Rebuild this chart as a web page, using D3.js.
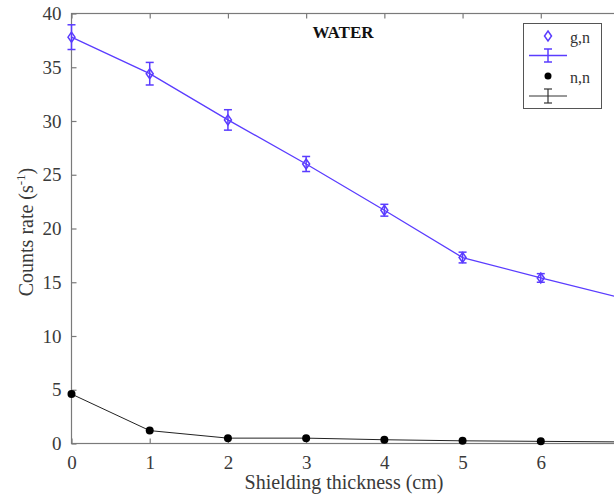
<!DOCTYPE html>
<html>
<head>
<meta charset="utf-8">
<script src="https://cdn.jsdelivr.net/npm/d3@7"></script>
<style>
body { margin: 0; background: #fff; }
svg text { font-family: "Liberation Serif", "Times New Roman", serif !important; }
</style>
</head>
<body>
<script>
var thickness = [0, 1, 2, 3, 4, 5, 6, 7];
var gnRate = [37.8, 34.4, 30.1, 26.0, 21.7, 17.3, 15.4, 13.6];
var gnErr = [1.15, 1.05, 0.95, 0.7, 0.55, 0.5, 0.4, 0.4];
var nnRate = [4.6, 1.2, 0.5, 0.5, 0.35, 0.25, 0.2, 0.15];
var xTicks = [0, 1, 2, 3, 4, 5, 6, 7];
var yTicks = [0, 5, 10, 15, 20, 25, 30, 35, 40];

var w = 614, h = 501;
var blue = "#5a3cff";
var axisCol = "#7a7a7a";

var x = d3.scaleLinear().domain([0, 7]).range([71.5, 619]);
var y = d3.scaleLinear().domain([0, 40]).range([443.5, 13.5]);

var svg = d3.select("body").append("svg")
    .attr("width", w).attr("height", h);

// frame
svg.append("rect")
    .attr("x", x(0)).attr("y", y(40))
    .attr("width", x(7) - x(0)).attr("height", y(0) - y(40))
    .attr("fill", "none").attr("stroke", axisCol).attr("stroke-width", 1.2);

// axes with inward ticks
var xb = svg.append("g").attr("transform", "translate(0," + y(0) + ")")
    .call(d3.axisBottom(x).tickValues(xTicks).tickSize(-5).tickPadding(12).tickFormat(d3.format("d")));
var xt = svg.append("g").attr("transform", "translate(0," + y(40) + ")")
    .call(d3.axisTop(x).tickValues(xTicks).tickSize(-5).tickFormat(""));
var yl = svg.append("g").attr("transform", "translate(" + x(0) + ",0)")
    .call(d3.axisLeft(y).tickValues(yTicks).tickSize(-5).tickPadding(10).tickFormat(d3.format("d")));
var yr = svg.append("g").attr("transform", "translate(" + x(7) + ",0)")
    .call(d3.axisRight(y).tickValues(yTicks).tickSize(-5).tickFormat(""));

[xb, xt, yl, yr].forEach(function (g) {
    g.attr("font-family", null).attr("font-size", null);
    g.select(".domain").remove();
    g.selectAll(".tick line").attr("stroke", axisCol).attr("stroke-width", 1.2);
    g.selectAll(".tick text")
        .attr("fill", "#3a3a3a")
        .style("font-size", "19px");
});

// g,n series
var line = d3.line()
    .x(function (d, i) { return x(thickness[i]); })
    .y(function (d) { return y(d); });

svg.append("path").datum(gnRate)
    .attr("d", line).attr("fill", "none")
    .attr("stroke", blue).attr("stroke-width", 1.3);

var eb = svg.append("g").selectAll("g").data(gnRate).enter().append("g");
eb.append("line")
    .attr("x1", function (d, i) { return x(thickness[i]); })
    .attr("x2", function (d, i) { return x(thickness[i]); })
    .attr("y1", function (d, i) { return y(d - gnErr[i]); })
    .attr("y2", function (d, i) { return y(d + gnErr[i]); })
    .attr("stroke", blue).attr("stroke-width", 1.5);
[-1, 1].forEach(function (s) {
    eb.append("line")
        .attr("x1", function (d, i) { return x(thickness[i]) - 4; })
        .attr("x2", function (d, i) { return x(thickness[i]) + 4; })
        .attr("y1", function (d, i) { return y(d + s * gnErr[i]); })
        .attr("y2", function (d, i) { return y(d + s * gnErr[i]); })
        .attr("stroke", blue).attr("stroke-width", 1.5);
});

var diamond = "M0,-5L3.5,0L0,5L-3.5,0Z";
svg.append("g").selectAll("path").data(gnRate).enter().append("path")
    .attr("d", diamond)
    .attr("transform", function (d, i) { return "translate(" + x(thickness[i]) + "," + y(d) + ")"; })
    .attr("fill", "none").attr("stroke", blue).attr("stroke-width", 1.5);

// n,n series
svg.append("path").datum(nnRate)
    .attr("d", line).attr("fill", "none")
    .attr("stroke", "#222").attr("stroke-width", 1);

svg.append("g").selectAll("circle").data(nnRate).enter().append("circle")
    .attr("cx", function (d, i) { return x(thickness[i]); })
    .attr("cy", function (d) { return y(d); })
    .attr("r", 4).attr("fill", "#000");

// title
svg.append("text").attr("x", 343).attr("y", 38)
    .attr("text-anchor", "middle")
    .style("font-size", "17px").style("font-weight", "bold")
    .attr("fill", "#111").text("WATER");

// axis labels
svg.append("text").attr("x", 344).attr("y", 489)
    .attr("text-anchor", "middle").attr("fill", "#3a3a3a")
    .style("font-size", "20px").text("Shielding thickness (cm)");

var yLab = svg.append("text")
    .attr("transform", "translate(33,232) rotate(-90)")
    .attr("text-anchor", "middle").attr("fill", "#3a3a3a")
    .style("font-size", "20px");
yLab.append("tspan").text("Counts rate (s");
yLab.append("tspan").attr("dy", -8).style("font-size", "13px").text("-1");
yLab.append("tspan").attr("dy", 8).text(")");

// legend
var lg = svg.append("g");
lg.append("rect").attr("x", 523.5).attr("y", 23.5).attr("width", 78).attr("height", 85)
    .attr("fill", "#fff").attr("stroke", "#555").attr("stroke-width", 1);
lg.append("path").attr("d", diamond).attr("transform", "translate(548,36)")
    .attr("fill", "none").attr("stroke", blue).attr("stroke-width", 1.5);
lg.append("text").attr("x", 570).attr("y", 43).attr("fill", "#333")
    .style("font-size", "16px").text("g,n");
lg.append("line").attr("x1", 529).attr("x2", 567).attr("y1", 55.5).attr("y2", 55.5)
    .attr("stroke", blue).attr("stroke-width", 1.3);
lg.append("line").attr("x1", 548).attr("x2", 548).attr("y1", 49).attr("y2", 62)
    .attr("stroke", blue).attr("stroke-width", 1.5);
lg.append("line").attr("x1", 544).attr("x2", 552).attr("y1", 49).attr("y2", 49)
    .attr("stroke", blue).attr("stroke-width", 1.5);
lg.append("line").attr("x1", 544).attr("x2", 552).attr("y1", 62).attr("y2", 62)
    .attr("stroke", blue).attr("stroke-width", 1.5);
lg.append("circle").attr("cx", 548).attr("cy", 76).attr("r", 3.5).attr("fill", "#000");
lg.append("text").attr("x", 570).attr("y", 83).attr("fill", "#333")
    .style("font-size", "16px").text("n,n");
lg.append("line").attr("x1", 529).attr("x2", 567).attr("y1", 96).attr("y2", 96)
    .attr("stroke", "#333").attr("stroke-width", 1);
lg.append("line").attr("x1", 548).attr("x2", 548).attr("y1", 89).attr("y2", 103)
    .attr("stroke", "#333").attr("stroke-width", 1.2);
lg.append("line").attr("x1", 544).attr("x2", 552).attr("y1", 89).attr("y2", 89)
    .attr("stroke", "#333").attr("stroke-width", 1.2);
lg.append("line").attr("x1", 544).attr("x2", 552).attr("y1", 103).attr("y2", 103)
    .attr("stroke", "#333").attr("stroke-width", 1.2);
</script>
</body>
</html>
